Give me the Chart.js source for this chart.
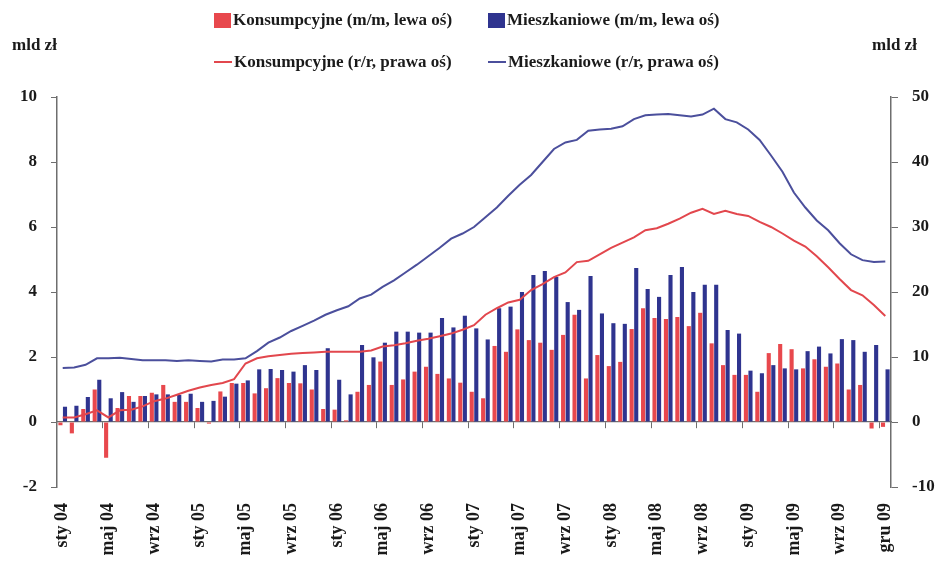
<!DOCTYPE html>
<html lang="pl">
<head>
<meta charset="UTF-8">
<title>Kredyty konsumpcyjne i mieszkaniowe</title>
<script src="https://cdn.jsdelivr.net/npm/chart.js"></script>
<style>
  body { margin: 0; background: #fff; }
  .wrap { position: relative; width: 944px; height: 572px; }
  #wykres { position: absolute; left: 0; top: 0; }
  .leg {
    position: absolute; display: flex; align-items: center; height: 20px;
    font: bold 17px "Liberation Serif", serif; color: #1a1a1a; white-space: nowrap;
  }
  .sq { width: 17px; height: 15px; margin-right: 2px; }
  .ln { width: 18px; height: 2px; margin-right: 2px; }
  .jedn { position: absolute; top: 35px; font: bold 17px "Liberation Serif", serif; color: #1a1a1a; }
</style>
</head>
<body>
<div class="wrap">
  <canvas id="wykres" width="944" height="572"></canvas>
  <div class="leg" style="left:214px; top:10px"><span class="sq" style="background:#e8484d"></span>Konsumpcyjne (m/m, lewa oś)</div>
  <div class="leg" style="left:488px; top:10px"><span class="sq" style="background:#2f348f"></span>Mieszkaniowe (m/m, lewa oś)</div>
  <div class="leg" style="left:214px; top:52px"><span class="ln" style="background:#e2474d"></span>Konsumpcyjne (r/r, prawa oś)</div>
  <div class="leg" style="left:488px; top:52px"><span class="ln" style="background:#4b4f9c"></span>Mieszkaniowe (r/r, prawa oś)</div>
  <div class="jedn" style="left:12px">mld zł</div>
  <div class="jedn" style="left:872px">mld zł</div>
</div>
<script>
  // miesiące sty 04 ... gru 09, podpisany co czwarty
  const kategorie = [
    "sty 04", "", "", "", "maj 04", "", "", "", "wrz 04", "", "", "",
    "sty 05", "", "", "", "maj 05", "", "", "", "wrz 05", "", "", "",
    "sty 06", "", "", "", "maj 06", "", "", "", "wrz 06", "", "", "",
    "sty 07", "", "", "", "maj 07", "", "", "", "wrz 07", "", "", "",
    "sty 08", "", "", "", "maj 08", "", "", "", "wrz 08", "", "", "",
    "sty 09", "", "", "", "maj 09", "", "", "", "wrz 09", "", "", "",
    "gru 09"
  ];

  // przyrosty m/m, mld zł (lewa oś)
  const konsMM = [
    -0.1, -0.35, 0.4, 1.0, -1.1, 0.43, 0.8, 0.8, 0.9, 1.14, 0.62, 0.62,
    0.43, -0.05, 0.94, 1.2, 1.2, 0.88, 1.04, 1.35, 1.2, 1.19, 1.0, 0.4,
    0.38, 0.05, 0.93, 1.14, 1.86, 1.14, 1.31, 1.55, 1.7, 1.48, 1.34, 1.21,
    0.93, 0.73, 2.34, 2.16, 2.85, 2.52, 2.44, 2.22, 2.68, 3.3, 1.34, 2.06,
    1.72, 1.85, 2.86, 3.5, 3.2, 3.17, 3.23, 2.95, 3.36, 2.42, 1.75, 1.45,
    1.45, 0.93, 2.12, 2.4, 2.24, 1.65, 1.93, 1.7, 1.8, 1.0, 1.14, -0.2,
    -0.15
  ];
  const mieszkMM = [
    0.47, 0.5, 0.77, 1.3, 0.73, 0.92, 0.62, 0.8, 0.85, 0.85, 0.83, 0.87,
    0.62, 0.65, 0.78, 1.18, 1.28, 1.62, 1.63, 1.6, 1.55, 1.75, 1.6, 2.27,
    1.3, 0.85, 2.37, 1.99, 2.44, 2.78, 2.78, 2.75, 2.75, 3.2, 2.91, 3.27,
    2.88, 2.54, 3.5, 3.55, 4.0, 4.52, 4.65, 4.46, 3.69, 3.45, 4.49, 3.34,
    3.04, 3.02, 4.74, 4.09, 3.85, 4.52, 4.77, 4.0, 4.22, 4.22, 2.83, 2.72,
    1.58, 1.5, 1.75, 1.65, 1.62, 2.18, 2.32, 2.11, 2.55, 2.52, 2.16, 2.37,
    1.62
  ];

  // przyrosty r/r, mld zł (prawa oś)
  const konsRR = [
    0.7, 0.7, 1.2, 1.8, 0.7, 1.8, 1.9, 2.4, 3.2, 3.6, 4.2, 4.8,
    5.3, 5.7, 6.0, 6.6, 9.0, 9.8, 10.1, 10.3, 10.5, 10.6, 10.7, 10.8,
    10.8, 10.8, 10.8, 11.0, 11.6, 11.8, 12.1, 12.5, 12.8, 13.2, 13.6, 14.2,
    14.9, 16.5, 17.5, 18.4, 18.8, 20.3, 21.2, 22.3, 23.0, 24.6, 24.8, 25.8,
    26.8, 27.6, 28.4, 29.5, 29.8, 30.5, 31.3, 32.2, 32.8, 32.0, 32.5, 32.0,
    31.7, 30.8, 30.0, 29.0, 27.9, 27.0, 25.5, 23.8, 22.0, 20.3, 19.5, 18.0,
    16.3
  ];
  const mieszkRR = [
    8.3, 8.4, 8.8, 9.8, 9.8, 9.9, 9.7, 9.5, 9.5, 9.5, 9.4, 9.5,
    9.4, 9.3, 9.6, 9.6, 9.8, 10.9, 12.2, 13.0, 14.0, 14.8, 15.6, 16.5,
    17.2, 17.8, 19.0, 19.6, 20.8, 21.8, 23.0, 24.2, 25.5, 26.8, 28.2, 29.0,
    30.0, 31.5, 33.0, 34.8, 36.5, 38.0, 40.0, 42.0, 43.0, 43.4, 44.8, 45.0,
    45.1, 45.5, 46.6, 47.2, 47.3, 47.4, 47.2, 47.0, 47.3, 48.2, 46.6, 46.1,
    45.0, 43.4, 41.0, 38.5, 35.3, 33.0, 31.0, 29.5, 27.5, 25.8, 24.9, 24.6,
    24.7
  ];

  const czcionka = { family: "Liberation Serif", size: 17, weight: "bold" };
  const szary = "#6e6e6e";

  new Chart(document.getElementById("wykres"), {
    data: {
      labels: kategorie,
      datasets: [
        { type: "line", label: "Konsumpcyjne (r/r, prawa oś)", data: konsRR, yAxisID: "y2",
          borderColor: "#e2474d", borderWidth: 2, pointRadius: 0, tension: 0, order: 0 },
        { type: "line", label: "Mieszkaniowe (r/r, prawa oś)", data: mieszkRR, yAxisID: "y2",
          borderColor: "#4b4f9c", borderWidth: 2, pointRadius: 0, tension: 0, order: 0 },
        { type: "bar", label: "Konsumpcyjne (m/m, lewa oś)", data: konsMM, yAxisID: "y",
          backgroundColor: "#e8484d", categoryPercentage: 0.8, barPercentage: 0.9, order: 1 },
        { type: "bar", label: "Mieszkaniowe (m/m, lewa oś)", data: mieszkMM, yAxisID: "y",
          backgroundColor: "#2f348f", categoryPercentage: 0.8, barPercentage: 0.9, order: 1 }
      ]
    },
    options: {
      responsive: false,
      animation: false,
      layout: { padding: { top: 97 } },
      plugins: { legend: { display: false }, tooltip: { enabled: false } },
      scales: {
        x: {
          type: "category",
          offset: true,
          grid: { display: false },
          border: { display: false },
          ticks: {
            autoSkip: false, minRotation: 90, maxRotation: 90, padding: 8,
            color: "#1a1a1a", font: { family: "Liberation Serif", size: 18, weight: "bold" }
          },
          afterFit: (s) => { s.height = 85; }
        },
        xz: {
          type: "category",
          axis: "x",
          position: { y: 0 },
          offset: true,
          grid: {
            offset: true, drawOnChartArea: false, tickLength: 6,
            tickColor: (c) => (c.index > 0 && c.index % 4 === 0) ? szary : "rgba(0,0,0,0)"
          },
          border: { color: szary, width: 1.2 },
          ticks: { display: false }
        },
        y: {
          position: "left",
          min: -2, max: 10,
          ticks: { stepSize: 2, padding: 14, color: "#1a1a1a", font: czcionka },
          grid: { drawOnChartArea: false, tickLength: 6, color: szary },
          border: { color: szary, width: 1.5 },
          afterFit: (s) => { s.width = 57; }
        },
        y2: {
          position: "right",
          min: -10, max: 50,
          ticks: { stepSize: 10, padding: 14, color: "#1a1a1a", font: czcionka },
          grid: { drawOnChartArea: false, tickLength: 7, color: szary },
          border: { color: szary, width: 1.5 },
          afterFit: (s) => { s.width = 53; }
        }
      }
    }
  });
</script>
</body>
</html>
